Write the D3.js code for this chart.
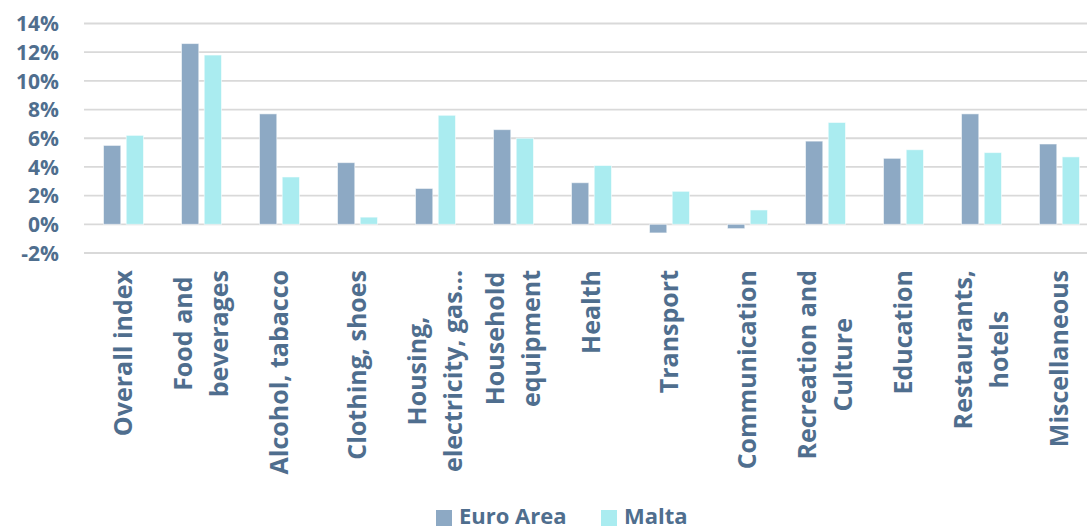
<!DOCTYPE html>
<html>
<head>
<meta charset="utf-8">
<script src="https://cdn.jsdelivr.net/npm/d3@7"></script>
<style>
  html, body { margin: 0; padding: 0; background: #ffffff; }
  svg { display: block; }
  text { font-family: "Open Sans", "DejaVu Sans", sans-serif; font-weight: 700; fill: #4F6E8E; }
</style>
</head>
<body>
<svg id="chart" width="1087" height="530"></svg>
<script>
// Annual inflation by HICP component, Euro Area vs Malta (%)
const categories = [
  "Overall index", "Food and beverages", "Alcohol, tabacco", "Clothing, shoes",
  "Housing, electricity, gas...", "Household equipment", "Health", "Transport",
  "Communication", "Recreation and Culture", "Education", "Restaurants, hotels",
  "Miscellaneous"
];
// Axis label lines for each category
const categoryLines = [
  ["Overall index"], ["Food and", "beverages"], ["Alcohol, tabacco"], ["Clothing, shoes"],
  ["Housing,", "electricity, gas..."], ["Household", "equipment"], ["Health"], ["Transport"],
  ["Communication"], ["Recreation and", "Culture"], ["Education"], ["Restaurants,", "hotels"],
  ["Miscellaneous"]
];
const seriesNames = ["Euro Area", "Malta"];
const euroArea = [5.5, 12.6, 7.7, 4.3, 2.5, 6.6, 2.9, -0.6, -0.3, 5.8, 4.6, 7.7, 5.6];
const malta    = [6.2, 11.8, 3.3, 0.5, 7.6, 6.0, 4.1, 2.3, 1.0, 7.1, 5.2, 5.0, 4.7];
const yTicks = [-2, 0, 2, 4, 6, 8, 10, 12, 14];

const colors = { "Euro Area": "#8DA9C4", "Malta": "#AAECF0" };

const svg = d3.select("#chart");
const W = 1087;
const plotLeft = 84, plotRight = 1098;

const y = d3.scaleLinear().domain([-2, 14]).range([253, 23.5]);
const x0 = d3.scaleBand().domain(categories).range([plotLeft, plotRight]).padding(0);
const x1 = d3.scaleBand().domain(seriesNames).range([19.5, 59.5]).paddingInner(0.24);

const rows = categories.map((c, i) => ({
  category: c,
  lines: categoryLines[i],
  values: [
    { series: "Euro Area", value: euroArea[i] },
    { series: "Malta", value: malta[i] }
  ]
}));

// Horizontal gridlines
svg.append("g")
  .selectAll("line")
  .data(yTicks)
  .join("line")
  .attr("x1", plotLeft)
  .attr("x2", W)
  .attr("y1", d => y(d))
  .attr("y2", d => y(d))
  .attr("stroke", "#D9D9D9")
  .attr("stroke-width", 1.8);

// Y-axis tick labels
const yAxis = d3.axisLeft(y)
  .tickValues(yTicks)
  .tickFormat(d => (d < 0 ? "-" : "") + Math.abs(d) + "%")
  .tickSize(0)
  .tickPadding(0);
const yg = svg.append("g").attr("transform", "translate(59,0)").call(yAxis);
yg.select(".domain").remove();
yg.selectAll("text")
  .attr("font-size", 21)
  .attr("fill", "#4F6E8E")
  .attr("font-family", null)
  .attr("dy", "0.35em");

// Bars
const groups = svg.append("g")
  .selectAll("g")
  .data(rows)
  .join("g")
  .attr("transform", d => `translate(${x0(d.category)},0)`);

groups.selectAll("rect")
  .data(d => d.values)
  .join("rect")
  .attr("x", d => x1(d.series))
  .attr("width", x1.bandwidth())
  .attr("y", d => y(Math.max(0, d.value)))
  .attr("height", d => Math.abs(y(d.value) - y(0)))
  .attr("fill", d => colors[d.series])
  .attr("stroke", "#ffffff")
  .attr("stroke-opacity", 0.55)
  .attr("stroke-width", 1);

// Rotated category labels, top-aligned below the axis
const labelTop = 270;
const lineGap = 36.5;
const labelG = svg.append("g");
rows.forEach(r => {
  const cx = x0(r.category) + x0.bandwidth() / 2;
  const n = r.lines.length;
  const g = labelG.append("g");
  const texts = r.lines.map((ln, j) => {
    const lx = cx + (j - (n - 1) / 2) * lineGap;
    return g.append("text")
      .attr("font-size", 25)
      .attr("text-anchor", "middle")
      .attr("dy", "0.35em")
      .attr("data-x", lx)
      .text(ln);
  });
  const maxW = d3.max(texts, t => t.node().getComputedTextLength());
  const cy = labelTop + maxW / 2;
  texts.forEach(t => {
    const lx = +t.attr("data-x");
    t.attr("transform", `translate(${lx},${cy}) rotate(-90)`).attr("data-x", null);
  });
});

// Legend
const legend = svg.append("g");
const legendItems = [
  { name: "Euro Area", x: 436 },
  { name: "Malta", x: 601 }
];
legendItems.forEach(it => {
  legend.append("rect")
    .attr("x", it.x).attr("y", 510)
    .attr("width", 16).attr("height", 16)
    .attr("fill", colors[it.name]);
  legend.append("text")
    .attr("x", it.x + 23).attr("y", 524)
    .attr("font-size", 22)
    .text(it.name);
});
</script>
</body>
</html>
